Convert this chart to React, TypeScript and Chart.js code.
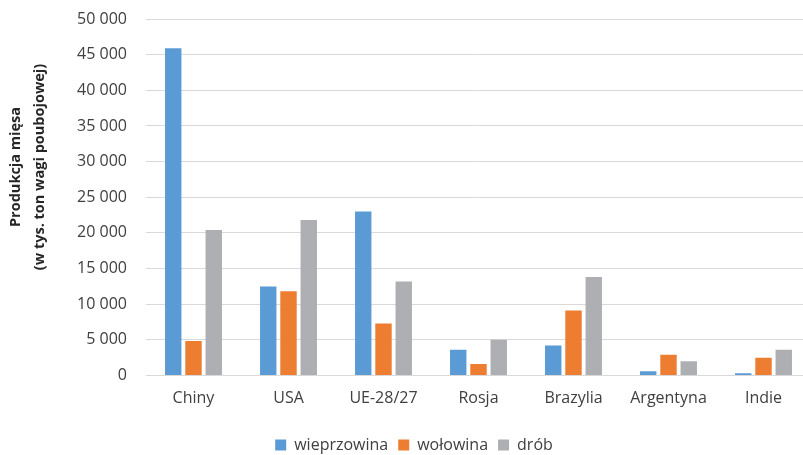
import React, { useEffect, useRef } from "react";
import { Chart, registerables } from "chart.js";

Chart.register(...registerables);

const categories = ["Chiny", "USA", "UE-28/27", "Rosja", "Brazylia", "Argentyna", "Indie"];
const seriesNames = ["wieprzowina", "wołowina", "drób"];
const pork = [45900, 12500, 23000, 3600, 4200, 600, 300];
const beef = [4850, 11800, 7300, 1600, 9100, 2900, 2500];
const poultry = [20400, 21800, 13200, 5000, 13800, 2000, 3600];
const yTitleLines = ["Produkcja mięsa", "(w tys. ton wagi poubojowej)"];
const yMin = 0;
const yMax = 50000;
const yStep = 5000;

const colors = ["#5B9BD5", "#ED7D31", "#AEAFB3"];
const FONT = "'Open Sans', sans-serif";
const TEXT = "#404040";

const fmt = (v: number) => String(v).replace(/\B(?=(\d{3})+(?!\d))/g, " ");

export default function App() {
  const ref = useRef<HTMLCanvasElement | null>(null);

  useEffect(() => {
    if (!ref.current) return;
    const yTitlePlugin = {
      id: "yTitle",
      afterDraw(chart: any) {
        const ctx = chart.ctx;
        ctx.save();
        ctx.font = `bold 14.5px ${FONT}`;
        ctx.fillStyle = "#262626";
        ctx.textAlign = "center";
        ctx.textBaseline = "middle";
        const xs = [16, 40];
        yTitleLines.forEach((t, i) => {
          ctx.save();
          ctx.translate(xs[i], 167);
          ctx.rotate(-Math.PI / 2);
          ctx.fillText(t, 0, 0);
          ctx.restore();
        });
        ctx.restore();
      },
    };
    const chart = new Chart(ref.current, {
      type: "bar",
      data: {
        labels: categories,
        datasets: [pork, beef, poultry].map((d, i) => ({
          label: seriesNames[i],
          data: d,
          backgroundColor: colors[i],
          borderWidth: 0,
          categoryPercentage: 0.64,
          barPercentage: 0.81,
        })),
      },
      options: {
        responsive: false,
        animation: false,
        devicePixelRatio: 1,
        layout: { padding: { left: 17, right: 19, top: 19, bottom: 0 } },
        plugins: {
          legend: {
            position: "bottom",
            labels: {
              boxWidth: 11,
              boxHeight: 11,
              padding: 10,
              color: TEXT,
              font: { family: FONT, size: 16 },
            },
          },
          tooltip: { enabled: false },
        },
        scales: {
          x: {
            grid: { display: false, drawTicks: false },
            border: { display: false },
            ticks: { color: TEXT, font: { family: FONT, size: 16 }, padding: 13, maxRotation: 0 },
            afterFit: (s: any) => {
              s.height = 51.5;
            },
          },
          y: {
            min: yMin,
            max: yMax,
            grid: { color: "#D9D9D9", lineWidth: 1, drawTicks: false },
            border: { display: false },
            ticks: {
              stepSize: yStep,
              color: TEXT,
              font: { family: FONT, size: 16 },
              padding: 19,
              callback: (v: any) => fmt(Number(v)),
            },
            afterFit: (s: any) => {
              s.width = 129;
              s.paddingTop = 0;
              s.paddingBottom = 0;
            },
          },
        },
      },
      plugins: [yTitlePlugin],
    } as any);
    return () => chart.destroy();
  }, []);

  return (
    <div
      style={{
        position: "fixed",
        left: 0,
        top: 0,
        width: 803,
        height: 455,
        overflow: "hidden",
        background: "#fff",
      }}
    >
      <canvas ref={ref} width={830} height={463} style={{ display: "block" }} />
    </div>
  );
}
